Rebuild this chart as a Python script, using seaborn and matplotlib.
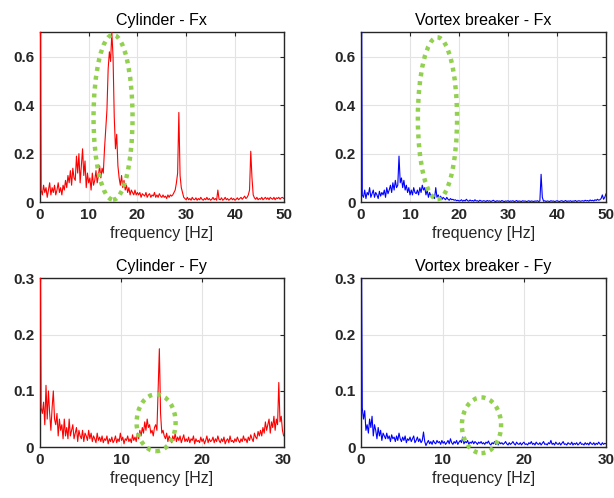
import numpy as np
import matplotlib
matplotlib.use("Agg")
import matplotlib.pyplot as plt
from matplotlib.patches import Ellipse
import seaborn as sns

# spectra, Fx sampled every 0.25 Hz (0-50 Hz), Fy every 0.15 Hz (0-30 Hz)
fx_step = 0.25
fy_step = 0.15

cyl_fx = [1.5,
    0.05, 0.03, 0.07, 0.04, 0.06, 0.02, 0.05, 0.08, 0.03, 0.06, 0.04, 0.07, 0.03, 0.05, 0.08, 0.04, 0.06, 0.03, 0.07, 0.05,
    0.09, 0.06, 0.11, 0.08, 0.13, 0.07, 0.14, 0.10, 0.09, 0.19, 0.12, 0.20, 0.08, 0.15, 0.22, 0.11, 0.17, 0.06, 0.12, 0.08,
    0.10, 0.05, 0.12, 0.07, 0.09, 0.13, 0.08, 0.11, 0.15, 0.10, 0.14, 0.12, 0.22, 0.30, 0.38, 0.55, 0.62, 0.58, 0.70, 0.60,
    0.35, 0.22, 0.28, 0.15, 0.10, 0.07, 0.11, 0.06, 0.09, 0.05, 0.07, 0.04, 0.06, 0.03, 0.05, 0.04, 0.03, 0.05, 0.03, 0.04,
    0.03, 0.04, 0.02, 0.035, 0.03, 0.025, 0.04, 0.02, 0.03, 0.035, 0.02, 0.03, 0.025, 0.04, 0.02, 0.03, 0.02, 0.035, 0.025, 0.02,
    0.03, 0.02, 0.025, 0.015, 0.03, 0.02, 0.03, 0.025, 0.03, 0.04, 0.05, 0.08, 0.12, 0.37, 0.11, 0.06, 0.04, 0.02, 0.015, 0.01,
    0.02, 0.01, 0.015, 0.008, 0.02, 0.012, 0.01, 0.018, 0.008, 0.015, 0.01, 0.02, 0.012, 0.008, 0.015, 0.01, 0.02, 0.01, 0.015, 0.008,
    0.012, 0.02, 0.01, 0.015, 0.008, 0.05, 0.012, 0.01, 0.018, 0.008, 0.012, 0.02, 0.01, 0.015, 0.008, 0.012, 0.018, 0.01, 0.015, 0.008,
    0.012, 0.018, 0.01, 0.015, 0.02, 0.012, 0.018, 0.025, 0.015, 0.02, 0.03, 0.05, 0.21, 0.10, 0.03, 0.018, 0.012, 0.02, 0.01, 0.015,
    0.012, 0.02, 0.01, 0.015, 0.02, 0.012, 0.018, 0.01, 0.02, 0.015, 0.012, 0.02, 0.01, 0.018, 0.015, 0.02, 0.012, 0.018, 0.02, 0.015]

vb_fx = [1.5,
    0.03, 0.02, 0.05, 0.015, 0.04, 0.03, 0.06, 0.02, 0.035, 0.05, 0.02, 0.04, 0.03, 0.015, 0.045, 0.025, 0.04, 0.03, 0.05, 0.02,
    0.06, 0.035, 0.05, 0.07, 0.04, 0.08, 0.05, 0.09, 0.06, 0.07, 0.19, 0.08, 0.10, 0.06, 0.09, 0.05, 0.07, 0.04, 0.06, 0.03,
    0.05, 0.03, 0.06, 0.04, 0.035, 0.05, 0.03, 0.06, 0.04, 0.07, 0.05, 0.06, 0.03, 0.05, 0.02, 0.04, 0.025, 0.03, 0.02, 0.015,
    0.06, 0.02, 0.03, 0.015, 0.025, 0.01, 0.02, 0.015, 0.01, 0.02, 0.012, 0.008, 0.015, 0.01, 0.012, 0.008, 0.01, 0.006, 0.008, 0.005,
    0.006, 0.01, 0.004, 0.008, 0.005, 0.012, 0.006, 0.004, 0.009, 0.005, 0.007, 0.004, 0.01, 0.005, 0.006, 0.003, 0.008, 0.005, 0.004, 0.006,
    0.005, 0.003, 0.007, 0.004, 0.006, 0.003, 0.005, 0.008, 0.004, 0.003, 0.006, 0.004, 0.005, 0.003, 0.007, 0.004, 0.003, 0.005, 0.004, 0.006,
    0.003, 0.005, 0.004, 0.006, 0.003, 0.004, 0.007, 0.003, 0.005, 0.004, 0.003, 0.006, 0.004, 0.005, 0.003, 0.004, 0.006, 0.003, 0.005, 0.004,
    0.003, 0.005, 0.004, 0.006, 0.003, 0.005, 0.115, 0.02, 0.004, 0.006, 0.003, 0.005, 0.004, 0.003, 0.006, 0.004, 0.005, 0.003, 0.004, 0.006,
    0.004, 0.003, 0.005, 0.006, 0.003, 0.004, 0.007, 0.003, 0.005, 0.004, 0.006, 0.003, 0.005, 0.004, 0.007, 0.003, 0.005, 0.006, 0.004, 0.005,
    0.006, 0.004, 0.008, 0.005, 0.007, 0.004, 0.009, 0.006, 0.008, 0.005, 0.01, 0.007, 0.012, 0.008, 0.01, 0.015, 0.03, 0.012, 0.02, 0.035]

cyl_fy = [0.5,
    0.07, 0.06, 0.08, 0.04, 0.11, 0.05, 0.10, 0.06, 0.03, 0.07, 0.10, 0.05, 0.04, 0.06, 0.02, 0.05, 0.03, 0.04, 0.015, 0.05,
    0.02, 0.035, 0.015, 0.05, 0.02, 0.03, 0.04, 0.015, 0.025, 0.035, 0.01, 0.03, 0.02, 0.015, 0.03, 0.01, 0.025, 0.02, 0.012, 0.03,
    0.015, 0.025, 0.01, 0.02, 0.015, 0.008, 0.025, 0.012, 0.018, 0.01, 0.02, 0.008, 0.015, 0.012, 0.02, 0.006, 0.015, 0.01, 0.018, 0.008,
    0.012, 0.02, 0.008, 0.015, 0.01, 0.025, 0.012, 0.018, 0.006, 0.015, 0.012, 0.02, 0.01, 0.015, 0.008, 0.022, 0.012, 0.018, 0.01, 0.025,
    0.015, 0.03, 0.02, 0.035, 0.025, 0.045, 0.03, 0.05, 0.035, 0.04, 0.025, 0.03, 0.02, 0.035, 0.04, 0.03, 0.10, 0.175, 0.06, 0.025,
    0.03, 0.02, 0.015, 0.025, 0.01, 0.02, 0.015, 0.008, 0.02, 0.012, 0.025, 0.01, 0.018, 0.012, 0.02, 0.008, 0.015, 0.022, 0.01, 0.015,
    0.01, 0.018, 0.008, 0.015, 0.012, 0.02, 0.006, 0.015, 0.01, 0.012, 0.008, 0.018, 0.01, 0.015, 0.006, 0.012, 0.02, 0.008, 0.015, 0.01,
    0.012, 0.018, 0.008, 0.015, 0.01, 0.02, 0.012, 0.008, 0.015, 0.01, 0.018, 0.006, 0.012, 0.015, 0.008, 0.02, 0.01, 0.012, 0.008, 0.015,
    0.01, 0.018, 0.012, 0.008, 0.015, 0.01, 0.02, 0.012, 0.015, 0.008, 0.018, 0.012, 0.022, 0.015, 0.01, 0.025, 0.018, 0.015, 0.028, 0.02,
    0.03, 0.02, 0.035, 0.025, 0.045, 0.03, 0.04, 0.05, 0.025, 0.045, 0.035, 0.055, 0.03, 0.05, 0.04, 0.115, 0.045, 0.055, 0.03, 0.02]

vb_fy = [0.5,
    0.07, 0.05, 0.065, 0.03, 0.04, 0.025, 0.05, 0.035, 0.055, 0.02, 0.04, 0.03, 0.015, 0.035, 0.02, 0.03, 0.012, 0.025, 0.02, 0.015,
    0.025, 0.015, 0.02, 0.01, 0.022, 0.015, 0.018, 0.01, 0.02, 0.012, 0.025, 0.015, 0.01, 0.018, 0.012, 0.02, 0.008, 0.015, 0.012, 0.018,
    0.01, 0.015, 0.02, 0.008, 0.012, 0.018, 0.01, 0.015, 0.008, 0.012, 0.027, 0.01, 0.003, 0.008, 0.012, 0.006, 0.01, 0.005, 0.012, 0.008,
    0.006, 0.012, 0.008, 0.01, 0.005, 0.012, 0.007, 0.01, 0.005, 0.008, 0.012, 0.006, 0.015, 0.008, 0.005, 0.01, 0.007, 0.012, 0.005, 0.009,
    0.012, 0.008, 0.018, 0.006, 0.01, 0.008, 0.012, 0.005, 0.009, 0.007, 0.011, 0.006, 0.01, 0.008, 0.005, 0.009, 0.007, 0.01, 0.006, 0.008,
    0.005, 0.009, 0.007, 0.011, 0.006, 0.004, 0.008, 0.006, 0.01, 0.005, 0.007, 0.004, 0.009, 0.006, 0.008, 0.005, 0.007, 0.01, 0.006, 0.004,
    0.008, 0.005, 0.007, 0.01, 0.006, 0.004, 0.009, 0.006, 0.005, 0.008, 0.004, 0.007, 0.009, 0.005, 0.006, 0.004, 0.008, 0.006, 0.01, 0.005,
    0.007, 0.004, 0.009, 0.006, 0.005, 0.008, 0.004, 0.007, 0.01, 0.005, 0.006, 0.004, 0.008, 0.006, 0.012, 0.005, 0.007, 0.004, 0.009, 0.006,
    0.005, 0.008, 0.004, 0.007, 0.01, 0.005, 0.006, 0.004, 0.008, 0.006, 0.005, 0.009, 0.004, 0.007, 0.005, 0.008, 0.004, 0.006, 0.009, 0.005,
    0.006, 0.004, 0.008, 0.005, 0.007, 0.004, 0.009, 0.006, 0.005, 0.008, 0.004, 0.007, 0.005, 0.009, 0.006, 0.004, 0.008, 0.005, 0.007, 0.006]

sns.set_style("white")
plt.rcParams['font.family'] = ['Liberation Sans', 'DejaVu Sans']

fig = plt.figure(figsize=(6.14, 4.98), dpi=100)
axes = [fig.add_axes([0.065, 0.594, 0.397, 0.341]),
        fig.add_axes([0.588, 0.594, 0.399, 0.341]),
        fig.add_axes([0.065, 0.102, 0.397, 0.339]),
        fig.add_axes([0.588, 0.102, 0.399, 0.339])]

panels = [
    ("Cylinder - Fx", cyl_fx, fx_step, "#ff0000", 50, 0.7, [0, 0.2, 0.4, 0.6], (15.0, 0.35, 8.0, 0.68)),
    ("Vortex breaker - Fx", vb_fx, fx_step, "#0000ff", 50, 0.7, [0, 0.2, 0.4, 0.6], (15.6, 0.346, 8.0, 0.667)),
    ("Cylinder - Fy", cyl_fy, fy_step, "#ff0000", 30, 0.3, [0, 0.1, 0.2, 0.3], (14.3, 0.0435, 4.8, 0.101)),
    ("Vortex breaker - Fy", vb_fy, fy_step, "#0000ff", 30, 0.3, [0, 0.1, 0.2, 0.3], (14.75, 0.039, 4.8, 0.099)),
]

for ax, (title, vals, step, color, xmax, ymax, yticks, ell) in zip(axes, panels):
    freq = np.arange(len(vals)) * step
    sns.lineplot(x=freq, y=vals, ax=ax, color=color, lw=0.8, estimator=None, zorder=3)
    ax.set_xlim(0, xmax)
    ax.set_ylim(0, ymax)
    ax.set_yticks(yticks)
    ax.set_yticklabels([f"{t:g}" for t in yticks])
    ax.grid(True, color="#e3e3e3", lw=0.8)
    ax.set_axisbelow(True)
    for s in ax.spines.values():
        s.set_color("#262626")
        s.set_linewidth(1.0)
    ax.tick_params(direction="in", length=3, width=0.8, top=True, right=True,
                   labelsize=11, pad=4, colors="#262626", labelcolor="#262626")
    for lab in ax.get_xticklabels() + ax.get_yticklabels():
        lab.set_fontweight("bold")
    ax.set_title(title, fontsize=11.5, pad=5, color="black")
    ax.set_xlabel("frequency [Hz]", fontsize=11.5, labelpad=3, color="#262626")
    ax.set_ylabel("")
    cx, cy, w, h = ell
    ax.add_patch(Ellipse((cx, cy), w, h, fill=False, ec="#92d050", lw=3.2,
                         ls=(0, (0.9, 1.1)), zorder=5, clip_on=False))

fig.savefig("out.png", dpi=100)
